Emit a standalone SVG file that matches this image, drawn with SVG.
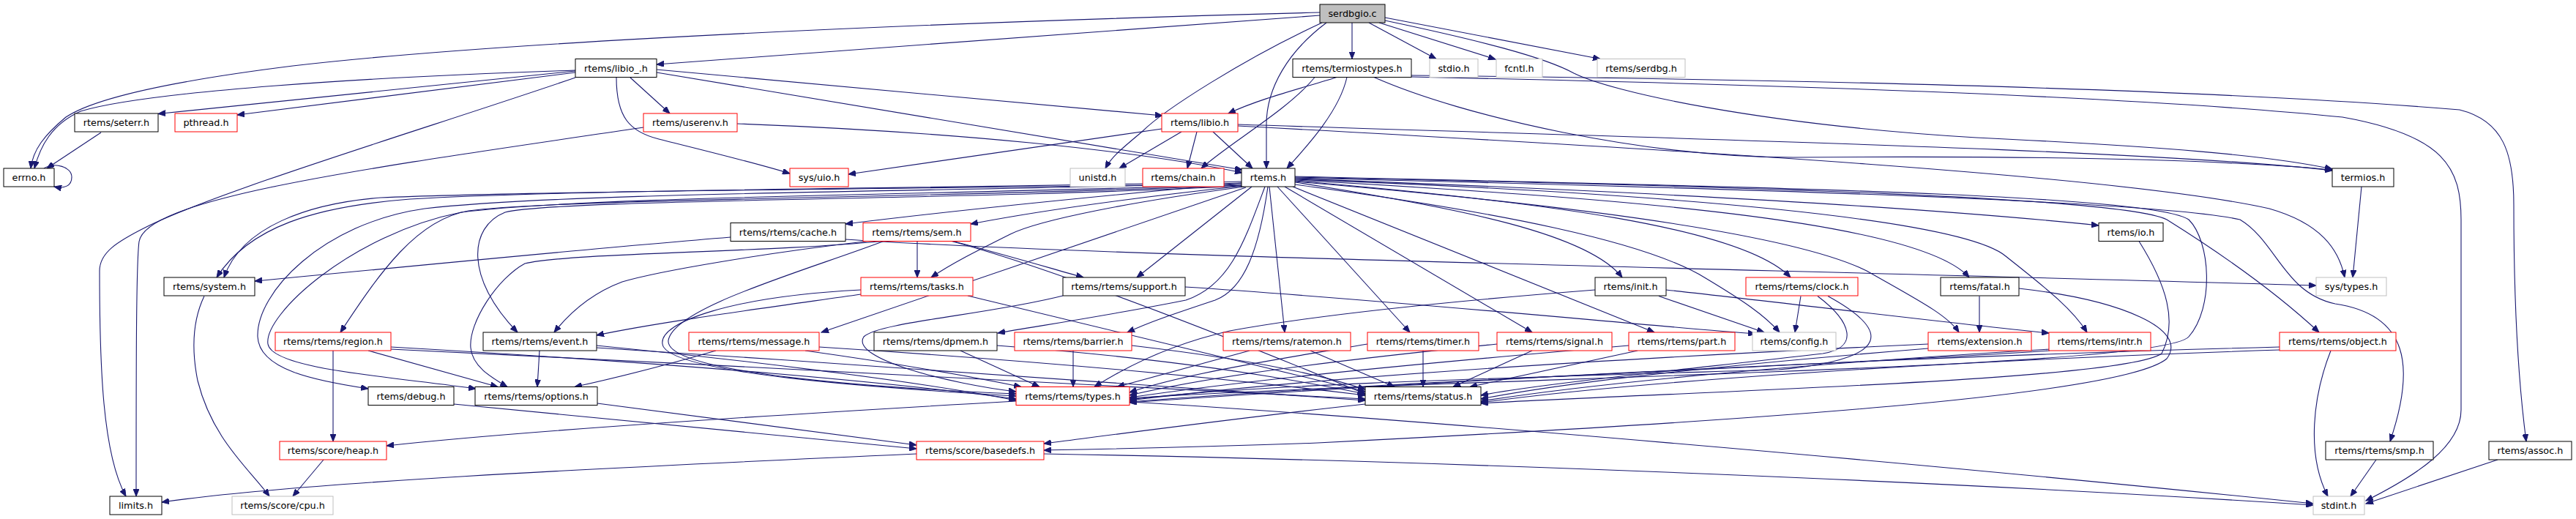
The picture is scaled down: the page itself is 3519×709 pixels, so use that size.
<svg xmlns="http://www.w3.org/2000/svg" width="3519" height="709" viewBox="0 0 3519 709">
<style>
rect{fill:#fff;stroke-width:1}
.b{stroke:#000}.r{stroke:#f00}.g{stroke:#bfbfbf}
.root{fill:#bfbfbf;stroke:#000}
text{font-family:"DejaVu Sans","Liberation Sans",sans-serif;font-size:12.8px;text-anchor:middle;fill:#000}
#edges path{fill:none;stroke:#191970;stroke-width:1.1;marker-end:url(#ah)}
</style>
<defs><marker id="ah" markerUnits="userSpaceOnUse" markerWidth="11" markerHeight="8" refX="10" refY="4" orient="auto"><path d="M0,0 L10,4 L0,8 z" fill="#191970" stroke="#191970" stroke-width="1"/></marker></defs>
<rect x="0" y="0" width="3519" height="709" style="fill:#fff;stroke:none"/>
<g id="edges">
<path d="M1803,21 L897,88"/>
<path d="M1803,17 C1300,30 700,55 400,90 C200,115 120,140 90,160 C60,185 45,205 42,230"/>
<path d="M1847,31 L1847,80.5"/>
<path d="M1870,31 L1962,80.5"/>
<path d="M1884,31 L2043,81"/>
<path d="M1892,24 L2186,80.5"/>
<path d="M1892,28 C2020,55 2110,78 2150,100 C2200,125 2400,170 2700,188 C2950,200 3100,212 3186,231"/>
<path d="M1806,31 C1700,80 1590,150 1560,180 C1530,205 1518,215 1510,230"/>
<path d="M1812,31 C1760,70 1730,120 1730,170 L1730,230"/>
<path d="M786,96 C500,105 200,125 110,152 C70,170 55,200 47,230"/>
<path d="M786,97 L216,155.5"/>
<path d="M786,99 L324,157"/>
<path d="M786,106 C600,170 300,260 200,310 C160,330 136,345 136,370 C136,500 140,620 172,678"/>
<path d="M842,106 C842,160 860,180 900,190 C980,210 1030,222 1079,237"/>
<path d="M861,106 L915,155"/>
<path d="M897,95 L1588,158"/>
<path d="M897,99 L1697,232"/>
<path d="M138,181 L64,230"/>
<path d="M60,230 C75,221 98,228 98,242 C98,254 88,258 74,255"/>
<path d="M1007,169 C1300,180 1550,205 1697,236"/>
<path d="M879,174 C500,230 200,270 190,330 C186,360 186,500 186,678"/>
<path d="M1587,176 L1159,238"/>
<path d="M1614,180 L1529,230"/>
<path d="M1635,180 L1622,230"/>
<path d="M1657,180 L1711,230"/>
<path d="M1691,170 C2300,190 2950,205 3186,233"/>
<path d="M1691,172 C2300,205 2900,240 3100,285 C3170,305 3195,340 3203,379"/>
<path d="M1826,105.5 C1780,120 1720,135 1678,155"/>
<path d="M1796,105.5 C1760,150 1680,195 1641,230"/>
<path d="M1840,105.5 C1830,150 1790,195 1758,230"/>
<path d="M1877,105.5 C2000,160 2250,215 2450,215 C2700,213 3000,215 3186,232"/>
<path d="M1928,103 C2400,108 3000,120 3360,150 C3420,165 3434,210 3434,280 C3434,420 3440,520 3451,603"/>
<path d="M1928,105 C2400,115 2900,130 3200,160 C3340,185 3362,230 3362,300 L3362,560 C3362,610 3300,650 3232,684"/>
<path d="M3226,255 L3214,379"/>
<path d="M1155,327 C1500,350 2300,365 3164,390"/>
<path d="M998,324 C800,340 550,365 348,384"/>
<path d="M1696,250 C1500,268 1300,288 1155,306"/>
<path d="M1698,254 C1550,270 1420,288 1326,306"/>
<path d="M1700,255 C1550,275 1420,300 1380,320 C1330,345 1300,360 1272,379"/>
<path d="M1710,255 L1553,379"/>
<path d="M1696,248 C1300,258 800,258 560,272 C430,282 340,310 296,379"/>
<path d="M1561,253 C1200,258 700,262 520,270 C420,278 330,310 306,379"/>
<path d="M1696,250 C1300,262 780,262 580,285 C440,305 350,400 352,460 C354,505 430,520 503,531"/>
<path d="M1697,252 C1300,266 800,268 630,290 C480,320 360,430 366,470 C372,505 540,515 650,531"/>
<path d="M1697,253 C1300,270 750,272 640,288 C570,300 520,370 465,454"/>
<path d="M1697,254 C1300,274 760,272 690,290 C640,310 635,380 707,454"/>
<path d="M1702,256 L1122,454"/>
<path d="M1728,255 C1700,330 1680,390 1620,410 C1520,430 1420,445 1363,455"/>
<path d="M1732,255 C1720,340 1700,395 1660,410 C1600,430 1570,440 1540,454"/>
<path d="M1734,255 L1755,454"/>
<path d="M1745,255 L1926,454"/>
<path d="M1755,255 L2093,454"/>
<path d="M1766,255 L2260,454"/>
<path d="M1769,252 C2050,290 2250,330 2330,380 C2380,410 2410,430 2431,454"/>
<path d="M1769,249 C2000,285 2170,320 2216,379"/>
<path d="M1769,247 C2100,275 2380,310 2446,379"/>
<path d="M1769,246 C2200,270 2620,300 2690,379"/>
<path d="M1769,248 C2150,280 2450,320 2550,370 C2620,410 2660,430 2676,454"/>
<path d="M1769,245 C2300,265 2680,300 2740,350 C2790,390 2830,420 2851,454"/>
<path d="M1769,244 C2200,260 2600,280 2867,308"/>
<path d="M1769,242 C2400,255 2900,270 2960,300 C3040,350 3110,400 3168,454"/>
<path d="M1769,243 C2400,258 2950,275 3060,300 C3110,330 3120,400 3190,415 C3290,430 3300,500 3265,603"/>
<path d="M1769,241 C2400,256 2940,265 2990,300 C3020,330 3025,420 2990,460 C2950,505 2000,515 1543,544"/>
<path d="M1253,329.5 L1253,379"/>
<path d="M1302,329.5 C1380,350 1430,365 1480,379"/>
<path d="M1204,329.5 C1050,345 780,345 717,360 C680,380 640,440 643,475 C645,500 670,515 693,528.5"/>
<path d="M1185,329.5 C1050,345 900,370 850,385 C810,400 780,425 757,454"/>
<path d="M1207,329.5 C1100,370 920,420 913,465 C908,510 1200,530 1388,538"/>
<path d="M1300,329.5 C1450,370 1700,470 1865,538"/>
<path d="M1176,396 C1000,405 900,440 905,470 C910,510 1200,530 1388,541"/>
<path d="M1176,402 C1050,420 900,440 815,458"/>
<path d="M1322,404 L1865,535"/>
<path d="M1619,392 C1900,410 2250,445 2398,456"/>
<path d="M1452,404 C1350,430 1200,440 1180,460 C1160,490 1300,525 1388,535"/>
<path d="M455,479 L455,603"/>
<path d="M503,479 L680,528.5"/>
<path d="M534,474 C900,495 1200,520 1388,545"/>
<path d="M534,477 C1000,500 1600,530 1865,545"/>
<path d="M737,479 L734,528.5"/>
<path d="M815,472 C1000,490 1250,520 1388,547"/>
<path d="M815,475 C1200,500 1650,530 1865,547"/>
<path d="M816,551 C1000,575 1150,595 1252,608"/>
<path d="M620,552 C900,580 1100,600 1252,613"/>
<path d="M978,479 C940,490 870,510 785,528.5"/>
<path d="M1100,479 C1250,500 1330,515 1395,528.5"/>
<path d="M1119,474 C1450,495 1700,520 1865,540"/>
<path d="M1312,479 L1420,528.5"/>
<path d="M1362,472 C1600,490 1750,515 1865,538"/>
<path d="M1466,479 L1466,528.5"/>
<path d="M1546,472 C1700,490 1800,510 1865,532"/>
<path d="M1707,479 L1526,528.5"/>
<path d="M1790,479 L1905,528.5"/>
<path d="M1944,479 L1944,528.5"/>
<path d="M1868,470 C1750,490 1620,510 1543,536"/>
<path d="M2093,479 L1985,528.5"/>
<path d="M2045,470 C1800,495 1650,515 1543,540"/>
<path d="M2237,479 L2008,528.5"/>
<path d="M2225,472 C1900,500 1700,520 1543,543"/>
<path d="M2266,404.5 L2410,454"/>
<path d="M2276,396 C2450,415 2650,440 2799,455"/>
<path d="M2179,396 C2000,410 1800,430 1680,452 C1600,470 1540,500 1495,528.5"/>
<path d="M2460,404.5 L2452,454"/>
<path d="M2483,404.5 C2530,440 2540,475 2490,483 C2300,505 2100,525 2023,540"/>
<path d="M2497,404.5 C2580,450 2590,490 2430,505 C2100,515 1700,525 1543,546"/>
<path d="M2634,470 C2200,490 1800,515 1543,547"/>
<path d="M2634,476 C2400,495 2150,520 2023,545"/>
<path d="M2704,404.5 L2704,454"/>
<path d="M2758,394 C2900,410 2990,450 2960,490 C2900,540 2400,575 1800,605 C1600,612 1480,614 1426,615"/>
<path d="M2800,479 C2500,500 1900,520 1543,549"/>
<path d="M2800,477 C2500,495 2200,520 2023,548"/>
<path d="M3184,479 C3160,540 3150,620 3180,678"/>
<path d="M3114,474 C2500,490 1900,525 1543,550"/>
<path d="M3114,478 C2600,495 2200,525 2023,550"/>
<path d="M2922,329.5 C2960,390 2975,440 2953,483 C2900,520 2300,535 2023,551"/>
<path d="M3246,628 L3211,678"/>
<path d="M3412,628 L3232,688"/>
<path d="M1388,548 C1000,570 700,590 528,609"/>
<path d="M1543,549 C1900,570 2600,630 3160,688"/>
<path d="M1252,620 C800,640 400,660 221,686"/>
<path d="M1426,620 C2000,630 2700,660 3160,690"/>
<path d="M1865,552 C1700,570 1550,590 1426,606"/>
<path d="M442,628 L400,678"/>
<path d="M279,404.5 C262,440 262,480 270,520 C290,600 340,640 368,678"/>
</g>
<g id="n_serdbgio"><rect class="root" x="1803" y="6" width="89" height="25"/><text x="1847.5" y="23">serdbgio.c</text></g>
<g id="n_libio_"><rect class="b" x="786" y="80.5" width="111" height="25"/><text x="841.5" y="97.5">rtems/libio_.h</text></g>
<g id="n_termiostypes"><rect class="b" x="1766" y="80.5" width="162" height="25"/><text x="1847" y="97.5">rtems/termiostypes.h</text></g>
<g id="n_stdio"><rect class="g" x="1953" y="80.5" width="66" height="25"/><text x="1986" y="97.5">stdio.h</text></g>
<g id="n_fcntl"><rect class="g" x="2044" y="80.5" width="63" height="25"/><text x="2075.5" y="97.5">fcntl.h</text></g>
<g id="n_serdbg"><rect class="g" x="2182" y="80.5" width="120" height="25"/><text x="2242" y="97.5">rtems/serdbg.h</text></g>
<g id="n_seterr"><rect class="b" x="102" y="155" width="114" height="25"/><text x="159" y="172">rtems/seterr.h</text></g>
<g id="n_pthread"><rect class="r" x="239" y="155" width="85" height="25"/><text x="281.5" y="172">pthread.h</text></g>
<g id="n_userenv"><rect class="r" x="879" y="155" width="128" height="25"/><text x="943" y="172">rtems/userenv.h</text></g>
<g id="n_libio"><rect class="r" x="1587" y="155" width="104" height="25"/><text x="1639" y="172">rtems/libio.h</text></g>
<g id="n_errno"><rect class="b" x="5" y="230" width="69" height="25"/><text x="39.5" y="247">errno.h</text></g>
<g id="n_uio"><rect class="r" x="1079" y="230" width="80" height="25"/><text x="1119" y="247">sys/uio.h</text></g>
<g id="n_unistd"><rect class="g" x="1462" y="230" width="75" height="25"/><text x="1499.5" y="247">unistd.h</text></g>
<g id="n_chain"><rect class="r" x="1561" y="230" width="111" height="25"/><text x="1616.5" y="247">rtems/chain.h</text></g>
<g id="n_rtems"><rect class="b" x="1696" y="230" width="73" height="25"/><text x="1732.5" y="247">rtems.h</text></g>
<g id="n_termios"><rect class="b" x="3186" y="230" width="84" height="25"/><text x="3228" y="247">termios.h</text></g>
<g id="n_cache"><rect class="b" x="998" y="304.5" width="157" height="25"/><text x="1076.5" y="321.5">rtems/rtems/cache.h</text></g>
<g id="n_sem"><rect class="r" x="1179" y="304.5" width="147" height="25"/><text x="1252.5" y="321.5">rtems/rtems/sem.h</text></g>
<g id="n_io"><rect class="b" x="2867" y="304.5" width="88" height="25"/><text x="2911" y="321.5">rtems/io.h</text></g>
<g id="n_system"><rect class="b" x="224" y="379" width="124" height="25"/><text x="286" y="396">rtems/system.h</text></g>
<g id="n_tasks"><rect class="r" x="1176" y="379" width="153" height="25"/><text x="1252.5" y="396">rtems/rtems/tasks.h</text></g>
<g id="n_support"><rect class="b" x="1452" y="379" width="167" height="25"/><text x="1535.5" y="396">rtems/rtems/support.h</text></g>
<g id="n_init"><rect class="b" x="2179" y="379" width="97" height="25"/><text x="2227.5" y="396">rtems/init.h</text></g>
<g id="n_clock"><rect class="r" x="2385" y="379" width="153" height="25"/><text x="2461.5" y="396">rtems/rtems/clock.h</text></g>
<g id="n_fatal"><rect class="b" x="2651" y="379" width="107" height="25"/><text x="2704.5" y="396">rtems/fatal.h</text></g>
<g id="n_systypes"><rect class="g" x="3164" y="379" width="96" height="25"/><text x="3212" y="396">sys/types.h</text></g>
<g id="n_region"><rect class="r" x="376" y="454" width="158" height="25"/><text x="455" y="471">rtems/rtems/region.h</text></g>
<g id="n_event"><rect class="b" x="660" y="454" width="155" height="25"/><text x="737.5" y="471">rtems/rtems/event.h</text></g>
<g id="n_message"><rect class="r" x="941" y="454" width="178" height="25"/><text x="1030" y="471">rtems/rtems/message.h</text></g>
<g id="n_dpmem"><rect class="b" x="1194" y="454" width="168" height="25"/><text x="1278" y="471">rtems/rtems/dpmem.h</text></g>
<g id="n_barrier"><rect class="r" x="1386" y="454" width="160" height="25"/><text x="1466" y="471">rtems/rtems/barrier.h</text></g>
<g id="n_ratemon"><rect class="r" x="1671" y="454" width="174" height="25"/><text x="1758" y="471">rtems/rtems/ratemon.h</text></g>
<g id="n_timer"><rect class="r" x="1868" y="454" width="152" height="25"/><text x="1944" y="471">rtems/rtems/timer.h</text></g>
<g id="n_signal"><rect class="r" x="2045" y="454" width="157" height="25"/><text x="2123.5" y="471">rtems/rtems/signal.h</text></g>
<g id="n_part"><rect class="r" x="2225" y="454" width="145" height="25"/><text x="2297.5" y="471">rtems/rtems/part.h</text></g>
<g id="n_config"><rect class="g" x="2394" y="454" width="114" height="25"/><text x="2451" y="471">rtems/config.h</text></g>
<g id="n_extension"><rect class="r" x="2634" y="454" width="141" height="25"/><text x="2704.5" y="471">rtems/extension.h</text></g>
<g id="n_intr"><rect class="r" x="2799" y="454" width="139" height="25"/><text x="2868.5" y="471">rtems/rtems/intr.h</text></g>
<g id="n_object"><rect class="r" x="3114" y="454" width="159" height="25"/><text x="3193.5" y="471">rtems/rtems/object.h</text></g>
<g id="n_debug"><rect class="b" x="503" y="528.5" width="117" height="25"/><text x="561.5" y="545.5">rtems/debug.h</text></g>
<g id="n_options"><rect class="b" x="649" y="528.5" width="167" height="25"/><text x="732.5" y="545.5">rtems/rtems/options.h</text></g>
<g id="n_types"><rect class="r" x="1388" y="528.5" width="155" height="25"/><text x="1465.5" y="545.5">rtems/rtems/types.h</text></g>
<g id="n_status"><rect class="b" x="1865" y="528.5" width="158" height="25"/><text x="1944" y="545.5">rtems/rtems/status.h</text></g>
<g id="n_heap"><rect class="r" x="382" y="603" width="146" height="25"/><text x="455" y="620">rtems/score/heap.h</text></g>
<g id="n_basedefs"><rect class="r" x="1252" y="603" width="174" height="25"/><text x="1339" y="620">rtems/score/basedefs.h</text></g>
<g id="n_smp"><rect class="b" x="3177" y="603" width="147" height="25"/><text x="3250.5" y="620">rtems/rtems/smp.h</text></g>
<g id="n_assoc"><rect class="b" x="3400" y="603" width="113" height="25"/><text x="3456.5" y="620">rtems/assoc.h</text></g>
<g id="n_limits"><rect class="b" x="150" y="678" width="71" height="25"/><text x="185.5" y="695">limits.h</text></g>
<g id="n_cpu"><rect class="g" x="317" y="678" width="138" height="25"/><text x="386" y="695">rtems/score/cpu.h</text></g>
<g id="n_stdint"><rect class="g" x="3160" y="678" width="70" height="25"/><text x="3195" y="695">stdint.h</text></g>
</svg>
